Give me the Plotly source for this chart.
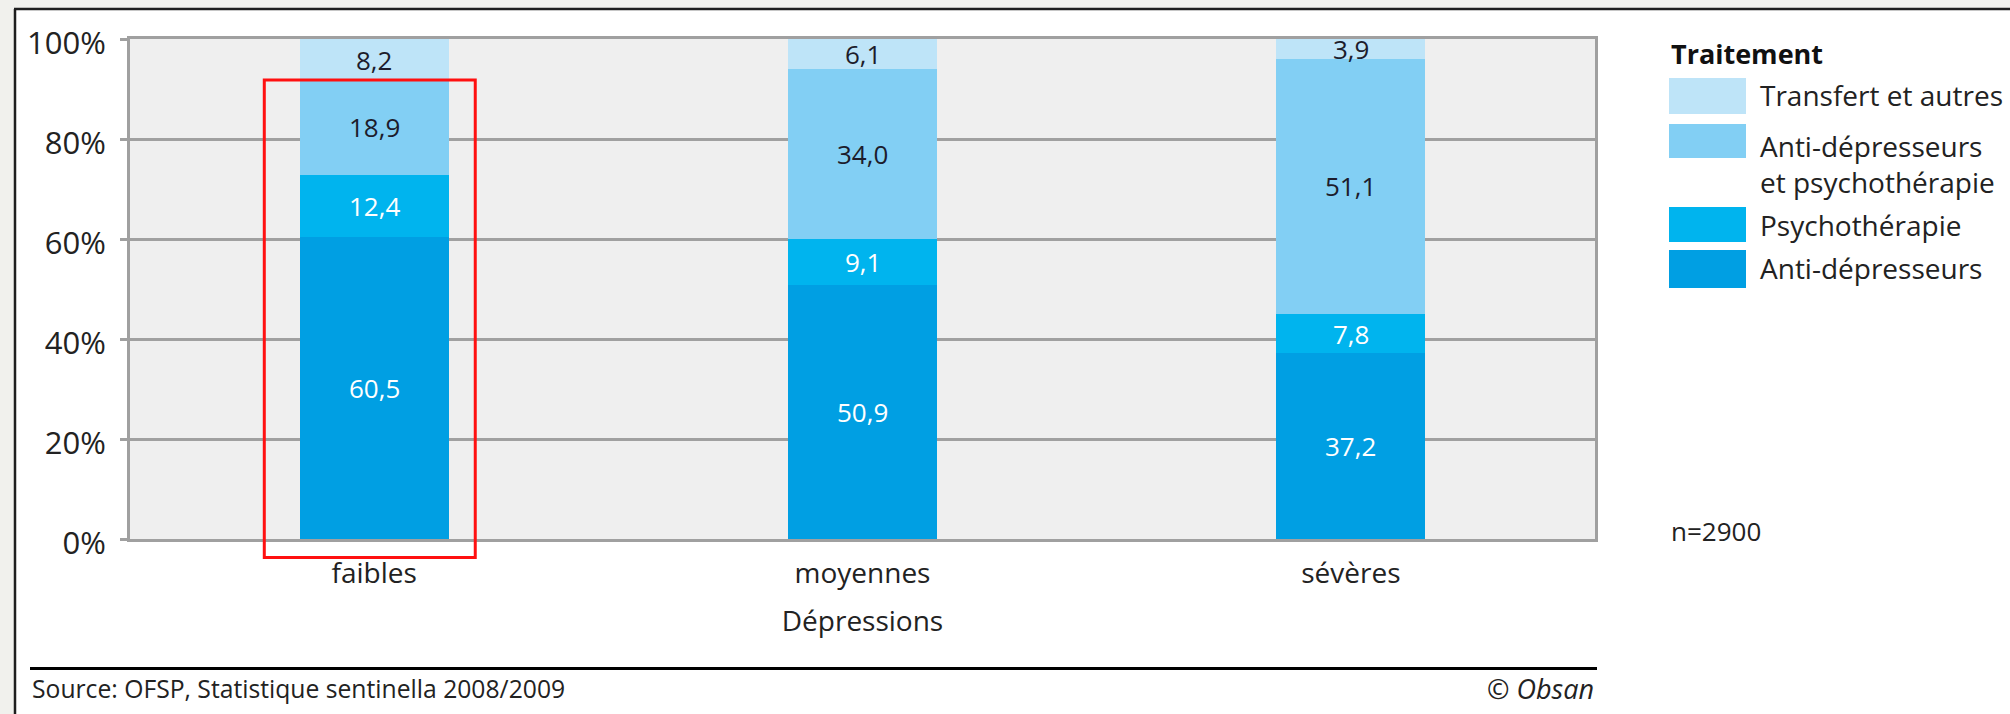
import plotly.graph_objects as go

# ---- data -------------------------------------------------------------
categories = ["faibles", "moyennes", "sévères"]
series_names = [
    "Anti-dépresseurs",
    "Psychothérapie",
    "Anti-dépresseurs et psychothérapie",
    "Transfert et autres",
]
legend_labels = [
    "Anti-dépresseurs",
    "Psychothérapie",
    "Anti-dépresseurs<br>et psychothérapie",
    "Transfert et autres",
]
anti_depresseurs = [60.5, 50.9, 37.2]
psychotherapie = [12.4, 9.1, 7.8]
anti_dep_psycho = [18.9, 34.0, 51.1]
transfert_autres = [8.2, 6.1, 3.9]
y_ticks = [0, 20, 40, 60, 80, 100]
y_tick_labels = ["0%", "20%", "40%", "60%", "80%", "100%"]
sample_size = 2900

series_values = [anti_depresseurs, psychotherapie, anti_dep_psycho, transfert_autres]

# ---- styles -----------------------------------------------------------
colors = ["#009fe3", "#00b4ee", "#82cff4", "#bee4f8"]
label_colors = ["#ffffff", "#ffffff", "#1c1c2c", "#1c1c2c"]
FONT = "Open Sans, Noto Sans, sans-serif"
TEXT = "#222222"
GRID = "#a0a0a0"

W, H = 2010, 714
M_L, M_R, M_T, M_B = 130, 415, 39, 175
PL, PR, PT, PB = M_L, W - M_R, M_T, H - M_B
X_RANGE = [-0.5, len(categories) - 0.5]


def px(x):
    """pixel x -> paper x"""
    return (x - PL) / (PR - PL)


def py(y):
    """pixel y -> paper y"""
    return (PB - y) / (PB - PT)


def fmt(v):
    return f"{v:.1f}".replace(".", ",")


fig = go.Figure()

for name, vals, col in zip(series_names, series_values, colors):
    fig.add_trace(go.Bar(
        x=categories, y=vals, name=name,
        marker=dict(color=col, line=dict(width=0)),
        width=0.305, showlegend=False, hoverinfo="skip",
    ))

# value labels centred in each segment
annotations = []
base = [0.0] * len(categories)
for vals, tcol in zip(series_values, label_colors):
    for i, v in enumerate(vals):
        annotations.append(dict(
            x=categories[i], y=base[i] + v / 2, xref="x", yref="y",
            text=fmt(v), showarrow=False,
            font=dict(family=FONT, size=26, color=tcol),
            xanchor="center", yanchor="middle",
        ))
        base[i] += v

# legend drawn as swatches + labels
legend_title_y = 53
swatch_rows = [(78, 114), (124, 158), (207, 242), (250, 288)]
label_rows = [95, 163.5, 225, 268]
shapes = []
annotations.append(dict(
    x=px(1669), y=py(legend_title_y), xref="paper", yref="paper",
    text="<b>Traitement</b>", showarrow=False, xanchor="left", yanchor="middle",
    font=dict(family=FONT, size=27, color="#111111"),
))
for k, idx in enumerate([3, 2, 1, 0]):
    y0, y1 = swatch_rows[k]
    shapes.append(dict(
        type="rect", xref="paper", yref="paper",
        x0=px(1669), x1=px(1746), y0=py(y1), y1=py(y0),
        fillcolor=colors[idx], line=dict(width=0),
    ))
    annotations.append(dict(
        x=px(1758), y=py(label_rows[k]), xref="paper", yref="paper",
        text=legend_labels[idx], showarrow=False,
        xanchor="left", yanchor="middle", align="left",
        font=dict(family=FONT, size=28, color=TEXT),
    ))

annotations.append(dict(
    x=px(1669), y=py(531), xref="paper", yref="paper",
    text=f"n={sample_size}", showarrow=False, xanchor="left", yanchor="middle",
    font=dict(family=FONT, size=26, color=TEXT),
))

# highlight box around the first group (up to the top of the third segment)
c0 = (0 - X_RANGE[0]) / (X_RANGE[1] - X_RANGE[0])
span = X_RANGE[1] - X_RANGE[0]
top_share = sum(v[0] for v in series_values[:3]) / 100
shapes.append(dict(
    type="rect", xref="x domain", yref="y domain",
    x0=c0 - 0.225 / span, x1=c0 + 0.207 / span,
    y0=-0.037, y1=top_share,
    line=dict(color="#ff1010", width=3), fillcolor="rgba(0,0,0,0)", layer="above",
))

# source line and credits
shapes.append(dict(
    type="line", xref="paper", yref="paper",
    x0=px(30), x1=px(1597), y0=py(668.5), y1=py(668.5),
    line=dict(color="#000000", width=3),
))
annotations.append(dict(
    x=px(30), y=py(688), xref="paper", yref="paper",
    text="Source: OFSP, Statistique sentinella 2008/2009", showarrow=False,
    xanchor="left", yanchor="middle", font=dict(family=FONT, size=24.7, color=TEXT),
))
annotations.append(dict(
    x=px(1596), y=py(688), xref="paper", yref="paper",
    text="<i>© Obsan</i>", showarrow=False,
    xanchor="right", yanchor="middle", font=dict(family=FONT, size=27, color=TEXT),
))

# outer frame (grey margin strip + dark border on left and top)
shapes += [
    dict(type="rect", xref="paper", yref="paper", x0=px(-5), x1=px(14),
         y0=py(H + 5), y1=py(-5), fillcolor="#f1f1ed", line=dict(width=0), layer="below"),
    dict(type="rect", xref="paper", yref="paper", x0=px(-5), x1=px(W + 5),
         y0=py(8), y1=py(-5), fillcolor="#f1f1ed", line=dict(width=0), layer="below"),
    dict(type="line", xref="paper", yref="paper", x0=px(15), x1=px(15),
         y0=py(H + 5), y1=py(9), line=dict(color="#1e1e1e", width=2.5)),
    dict(type="line", xref="paper", yref="paper", x0=px(14), x1=px(W + 5),
         y0=py(9), y1=py(9), line=dict(color="#1e1e1e", width=2.5)),
]

fig.update_layout(
    width=W, height=H,
    margin=dict(l=M_L, r=M_R, t=M_T, b=M_B, pad=0),
    barmode="stack", bargap=0,
    paper_bgcolor="#ffffff", plot_bgcolor="#efefef",
    font=dict(family=FONT, size=28, color=TEXT),
    annotations=annotations, shapes=shapes,
    showlegend=False,
)
fig.update_xaxes(
    range=X_RANGE, showgrid=False, zeroline=False,
    showline=True, linecolor=GRID, linewidth=3, mirror=True,
    ticks="", tickfont=dict(family=FONT, size=28, color=TEXT),
    ticklabelstandoff=7,
    title=dict(text="Dépressions", font=dict(family=FONT, size=28, color=TEXT), standoff=22),
)
fig.update_yaxes(
    range=[0, 100], tickvals=y_ticks, ticktext=y_tick_labels,
    showgrid=True, gridcolor=GRID, gridwidth=3, zeroline=False,
    showline=True, linecolor=GRID, linewidth=3, mirror=True,
    ticks="outside", ticklen=7, tickwidth=3, tickcolor=GRID,
    tickfont=dict(family=FONT, size=31, color=TEXT),
    ticklabelstandoff=8, ticklabelshift=4,
)

fig.write_html("out.html")
